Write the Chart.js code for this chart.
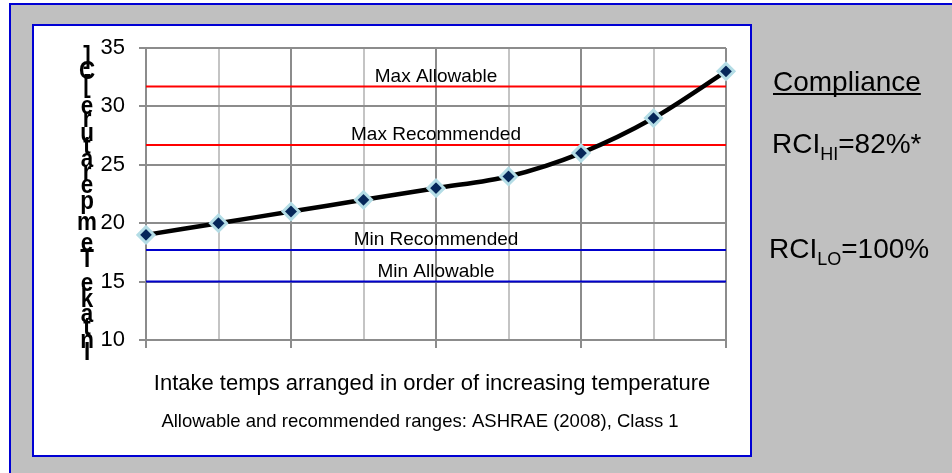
<!DOCTYPE html>
<html>
<head>
<meta charset="utf-8">
<title>Intake temperatures</title>
<script src="https://cdn.jsdelivr.net/npm/chart.js@4/dist/chart.umd.min.js"></script>
<style>
  html, body { margin: 0; padding: 0; background: #fff; }
  canvas { display: block; }
</style>
</head>
<body>
<canvas id="chart" width="952" height="473"></canvas>
<script>
// Intake temperatures, sorted ascending (°C)
const categories = ['1', '2', '3', '4', '5', '6', '7', '8', '9'];
const intakeTemps = [19, 20, 21, 22, 23, 24, 26, 29, 33];

// ASHRAE (2008) Class 1 limits
const limitNames = ['Max Allowable', 'Max Recommended', 'Min Recommended', 'Min Allowable'];
const limitValues = [31.7, 26.7, 17.7, 15];
const limitColors = ['#ff0000', '#ff0000', '#0000cc', '#0000cc'];

const yTickValues = [10, 15, 20, 25, 30, 35];

const yAxisTitle = 'Intake Temperature [C]';
const xAxisTitle = 'Intake temps arranged in order of increasing temperature';
const sourceNote = 'Allowable and recommended ranges: ASHRAE (2008), Class 1';
const complianceTitle = 'Compliance';
const rciHi = ['RCI', 'HI', '=82%*'];
const rciLo = ['RCI', 'LO', '=100%'];

const FONT = '"Liberation Sans", Arial, sans-serif';
const BLUE = '#0000d4';

// Grey backdrop, outer frame and the white panel holding the plot
const framePlugin = {
  id: 'frame',
  beforeDraw(chart) {
    const ctx = chart.ctx;
    ctx.save();
    ctx.fillStyle = '#ffffff';
    ctx.fillRect(0, 0, chart.width, chart.height);
    ctx.fillStyle = '#c0c0c0';
    ctx.fillRect(10, 4, chart.width + 10, chart.height + 10);
    ctx.strokeStyle = BLUE;
    ctx.lineWidth = 2;
    ctx.beginPath();
    ctx.moveTo(10, chart.height + 10);
    ctx.lineTo(10, 4);
    ctx.lineTo(chart.width + 10, 4);
    ctx.stroke();
    ctx.fillStyle = '#ffffff';
    ctx.fillRect(33, 25, 718, 431);
    ctx.strokeRect(33, 25, 718, 431);
    ctx.restore();
  }
};

// Names written just above each limit line
const limitLabelPlugin = {
  id: 'limitLabels',
  afterDatasetsDraw(chart) {
    const ctx = chart.ctx;
    const area = chart.chartArea;
    const y = chart.scales.y;
    const cx = (area.left + area.right) / 2;
    ctx.save();
    ctx.font = '19px ' + FONT;
    ctx.fillStyle = '#000';
    ctx.textAlign = 'center';
    ctx.textBaseline = 'alphabetic';
    limitValues.forEach((v, i) => {
      ctx.fillText(limitNames[i], cx, y.getPixelForValue(v) - 5);
    });
    ctx.restore();
  }
};

// Axis titles, source note and the compliance panel
const textPlugin = {
  id: 'texts',
  afterDraw(chart) {
    const ctx = chart.ctx;
    ctx.save();
    ctx.fillStyle = '#000';

    // stacked vertical title: upright glyphs advancing upward
    ctx.font = 'bold 28px ' + FONT;
    ctx.textAlign = 'center';
    ctx.textBaseline = 'middle';
    let along = 357;
    for (const ch of yAxisTitle) {
      const w = ctx.measureText(ch).width;
      const cy = along - w / 2;
      if (ch !== ' ') {
        ctx.save();
        ctx.translate(87, cy);
        ctx.scale(0.8, 0.93);
        ctx.fillText(ch, 0, 0);
        ctx.restore();
      }
      along -= w;
    }

    ctx.textBaseline = 'alphabetic';
    ctx.textAlign = 'center';
    ctx.font = '22px ' + FONT;
    ctx.fillText(xAxisTitle, 432, 390, 561);
    ctx.font = '18.5px ' + FONT;
    ctx.fillText(sourceNote, 420, 427, 526);

    // compliance panel
    ctx.textAlign = 'left';
    ctx.font = '28px ' + FONT;
    ctx.fillText(complianceTitle, 773, 91);
    const cw = ctx.measureText(complianceTitle).width;
    ctx.fillRect(773, 93, cw, 2);

    const drawSub = (parts, x, y) => {
      ctx.font = '28px ' + FONT;
      ctx.fillText(parts[0], x, y);
      x += ctx.measureText(parts[0]).width;
      ctx.font = '18px ' + FONT;
      ctx.fillText(parts[1], x, y + 7);
      x += ctx.measureText(parts[1]).width;
      ctx.font = '28px ' + FONT;
      ctx.fillText(parts[2], x, y);
    };
    drawSub(rciHi, 772, 153);
    drawSub(rciLo, 769, 258);
    ctx.restore();
  }
};

const limitDatasets = limitValues.map((v, i) => ({
  label: limitNames[i],
  data: categories.map(() => v),
  borderColor: limitColors[i],
  borderWidth: 2,
  pointRadius: 0,
  tension: 0,
  fill: false
}));

new Chart(document.getElementById('chart'), {
  type: 'line',
  data: {
    labels: categories,
    datasets: [
      {
        label: 'Intake temperature',
        data: intakeTemps,
        borderColor: '#000000',
        borderWidth: 4.5,
        tension: 0.3,
        pointStyle: 'rectRot',
        pointRadius: 8,
        pointBorderWidth: 3,
        pointBackgroundColor: '#06275a',
        pointBorderColor: '#b4dde6',
        clip: false,
        fill: false
      },
      ...limitDatasets
    ]
  },
  options: {
    responsive: false,
    animation: false,
    devicePixelRatio: 1,
    events: [],
    layout: { padding: { left: 86, right: 226, top: 48, bottom: 123 } },
    plugins: {
      legend: { display: false },
      tooltip: { enabled: false }
    },
    scales: {
      x: {
        type: 'category',
        offset: false,
        ticks: { display: false },
        border: { display: false },
        grid: {
          offset: false,
          lineWidth: 2,
          color: (c) => (c.index % 2 === 0 ? '#8c8c8c' : '#c4c4c4'),
          tickLength: 8,
          tickWidth: 2,
          tickColor: (c) => (c.index % 2 === 0 ? '#8c8c8c' : 'rgba(0,0,0,0)')
        },
        afterFit(scale) { scale.height = 10; }
      },
      y: {
        min: 10,
        max: 35,
        afterBuildTicks(scale) {
          scale.ticks = yTickValues.map((v) => ({ value: v }));
        },
        ticks: {
          color: '#000',
          padding: 14,
          font: { family: FONT, size: 22 }
        },
        border: { display: false },
        grid: {
          color: '#8c8c8c',
          lineWidth: 2,
          tickLength: 7,
          tickWidth: 2,
          tickColor: '#8c8c8c'
        },
        afterFit(scale) { scale.width = 60; }
      }
    }
  },
  plugins: [framePlugin, limitLabelPlugin, textPlugin]
});
</script>
</body>
</html>
